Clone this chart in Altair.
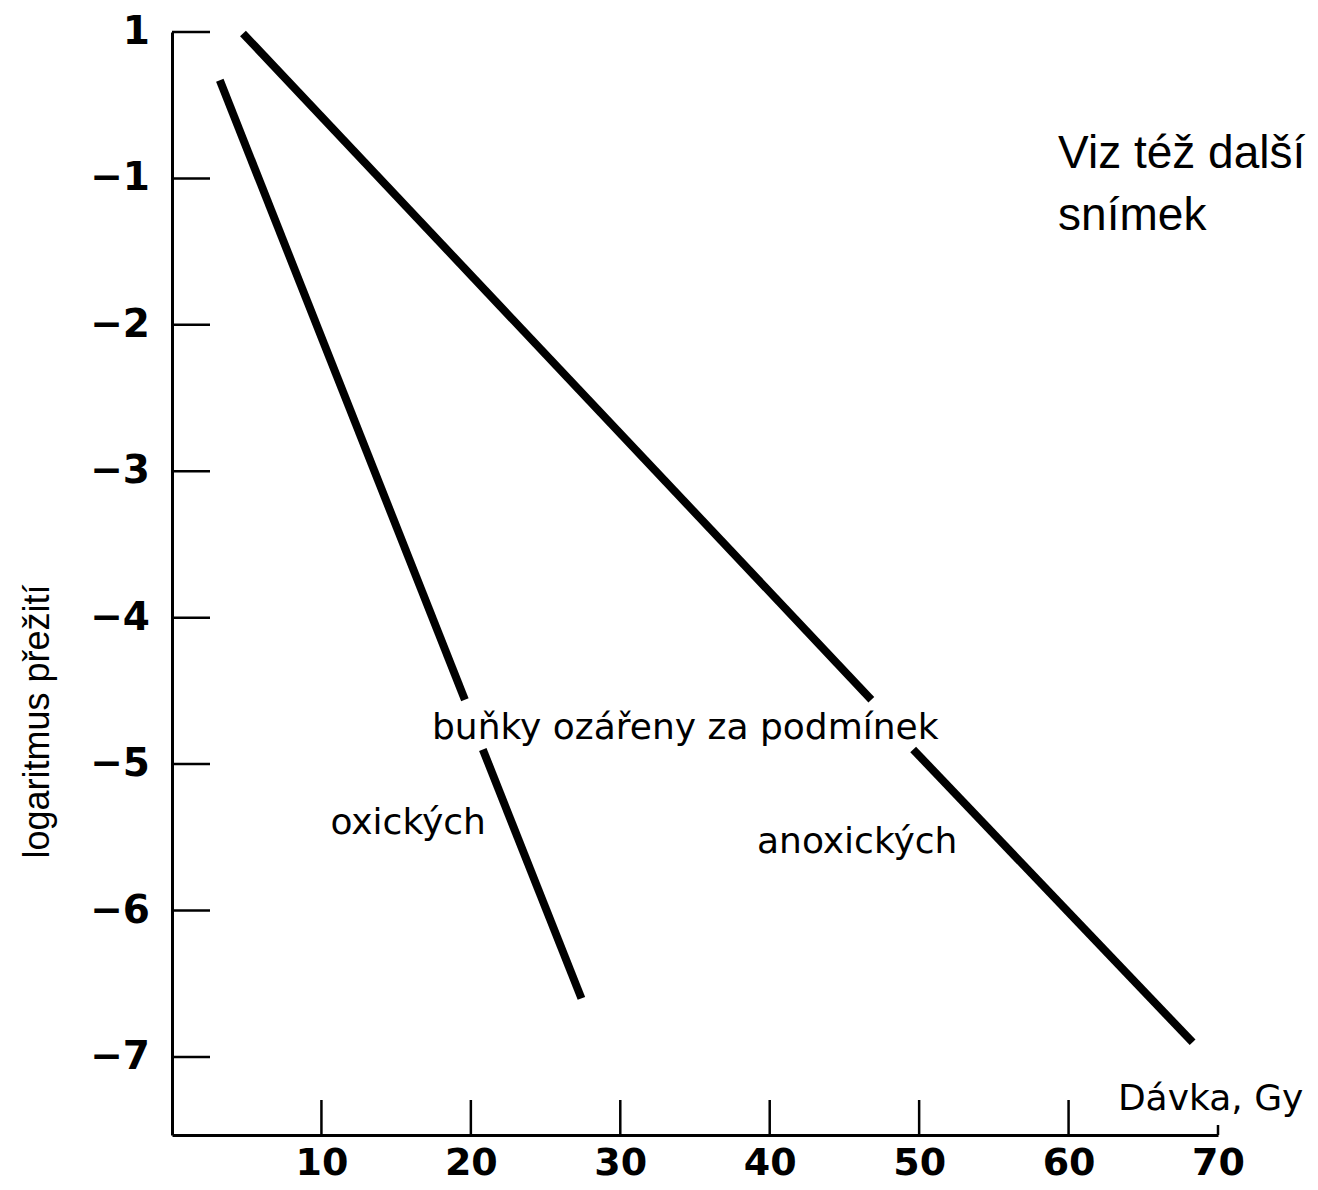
import altair as alt
import pandas as pd

# ---- data ----
x_tick_values = [10, 20, 30, 40, 50, 60, 70]
x_long_ticks = [10, 20, 30, 40, 50, 60]
x_short_ticks = [70]
y_ticks = [0, -1, -2, -3, -4, -5, -6, -7]
y_tick_labels = ["1", "−1", "−2", "−3", "−4", "−5", "−6", "−7"]

# survival lines (dose in Gy, log of survival); broken where the labels cross them
oxic_x = [3.2, 19.6, 20.8, 27.4]
oxic_y = [-0.33, -4.56, -4.90, -6.60]
oxic_seg = ["o1", "o1", "o2", "o2"]
anoxic_x = [4.75, 46.8, 49.6, 68.3]
anoxic_y = [-0.01, -4.56, -4.90, -6.90]
anoxic_seg = ["a1", "a1", "a2", "a2"]

ann_text = ["buňky ozářeny za podmínek", "oxických", "anoxických", "Dávka, Gy"]
ann_x = [17.4, 10.6, 39.15, 63.3]
ann_y = [-4.83, -5.48, -5.61, -7.36]

note_text = ["Viz též další", "snímek"]
note_x = [59.3, 59.3]
note_y = [-0.93, -1.35]

# ---- layout ----
W, H = 1046, 1103
xs = alt.Scale(domain=[0, 70], nice=False, zero=False)
ys = alt.Scale(domain=[-7.533, 0], nice=False, zero=False)

x_axis = alt.Axis(
    values=x_tick_values, ticks=False, grid=False, title=None,
    domainColor="black", domainWidth=3, labelFlush=False,
    labelFont="DejaVu Sans", labelFontSize=38, labelFontWeight="bold",
    labelColor="black", labelPadding=9)
y_axis = alt.Axis(
    labels=False, ticks=False, grid=False, domainColor="black", domainWidth=3,
    title="logaritmus přežití", titleFont="Liberation Sans", titleFontSize=36,
    titleFontWeight="normal", titleColor="black", titleAngle=270,
    titleX=-124, titleY=689, titleAlign="center", titleBaseline="alphabetic")

def X():
    return alt.X("x:Q", scale=xs, axis=x_axis, title=None)

def Y():
    return alt.Y("y:Q", scale=ys, axis=y_axis, title="logaritmus přežití")

lines_df = pd.DataFrame({
    "x": oxic_x + anoxic_x,
    "y": oxic_y + anoxic_y,
    "seg": oxic_seg + anoxic_seg,
})
yt_df = pd.DataFrame({"y": y_ticks, "label": y_tick_labels})
xl_df = pd.DataFrame({"x": x_long_ticks})
xs_df = pd.DataFrame({"x": x_short_ticks})
ann_df = pd.DataFrame({"text": ann_text, "x": ann_x, "y": ann_y})
note_df = pd.DataFrame({"text": note_text, "x": note_x, "y": note_y})

lines = alt.Chart(lines_df).mark_line(color="black", strokeWidth=8, strokeCap="butt").encode(
    x=X(), y=Y(), detail="seg:N",
)
y_tick_rules = alt.Chart(yt_df).mark_rule(color="black", strokeWidth=2.5).encode(
    y=Y(), x=alt.value(0), x2=alt.value(38),
)
y_tick_text = alt.Chart(yt_df).mark_text(
    align="right", baseline="middle", font="DejaVu Sans", fontSize=39,
    fontWeight="bold", color="black").encode(
    y=Y(), x=alt.value(-22), text="label:N",
)
x_long = alt.Chart(xl_df).mark_rule(color="black", strokeWidth=2.5).encode(
    x=X(), y=alt.value(H - 35), y2=alt.value(H),
)
x_short = alt.Chart(xs_df).mark_rule(color="black", strokeWidth=2.5).encode(
    x=X(), y=alt.value(H - 10), y2=alt.value(H),
)
ann = alt.Chart(ann_df).mark_text(
    align="left", baseline="alphabetic", font="DejaVu Sans", fontSize=36,
    color="black").encode(
    x=X(), y=Y(), text="text:N",
)
note = alt.Chart(note_df).mark_text(
    align="left", baseline="alphabetic", font="Liberation Sans", fontSize=46,
    color="black").encode(
    x=X(), y=Y(), text="text:N",
)

chart = alt.layer(lines, y_tick_rules, y_tick_text, x_long, x_short, ann, note).properties(
    width=W, height=H,
    autosize=alt.AutoSizeParams(type="none"),
    padding={"left": 164, "top": 24, "right": 92, "bottom": 47},
    background="white",
).configure_view(stroke=None)

chart.save("out.html", embed_options={"renderer": "svg", "actions": False})
